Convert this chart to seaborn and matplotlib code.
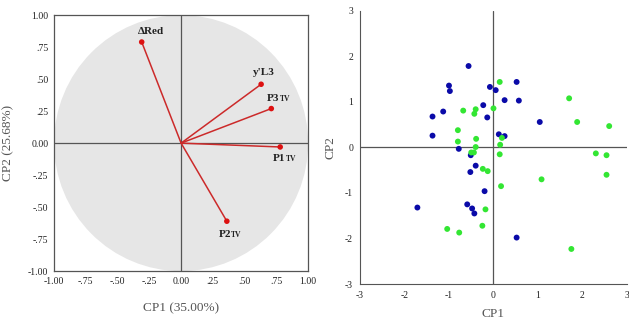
import numpy as np
import pandas as pd
import seaborn as sns
import matplotlib.pyplot as plt
from matplotlib.patches import Circle

# loadings (left panel)
var_main = ["\u0394Red", "y'L3", "P3", "P1", "P2"]
var_sub = ["", "", "TV", "TV", "TV"]
load_cp1 = [-0.31, 0.63, 0.71, 0.78, 0.36]
load_cp2 = [0.79, 0.46, 0.27, -0.03, -0.61]

# scores (right panel)
blue_cp1 = [-0.56, -1.00, -0.98, -1.13, -1.37, -1.37, -0.08, 0.05, 0.52, 0.25, 0.57, -0.23, -0.14,
            1.04, 0.12, 0.25, -0.78, -0.51, -0.40, -0.52, -0.20, -1.71, -0.59, -0.48, -0.43, 0.52]
blue_cp2 = [1.79, 1.36, 1.24, 0.79, 0.68, 0.26, 1.33, 1.26, 1.44, 1.04, 1.03, 0.93, 0.66,
            0.56, 0.29, 0.25, -0.03, -0.17, -0.40, -0.54, -0.96, -1.32, -1.25, -1.34, -1.45, -1.98]
green_cp1 = [0.14, 1.70, -0.68, -0.40, -0.43, 0.00, 1.88, 2.60, -0.80, -0.80, -0.39, 0.19, 0.15,
             -0.40, -0.50, -0.44, 0.14, -0.24, -0.13, 0.17, 1.08, 2.30, 2.54, 2.54, -0.18, -0.25,
             -1.04, -0.77, 1.75]
green_cp2 = [1.44, 1.08, 0.81, 0.84, 0.74, 0.86, 0.56, 0.47, 0.38, 0.13, 0.19, 0.21, 0.06,
             0.01, -0.11, -0.11, -0.15, -0.47, -0.52, -0.85, -0.70, -0.13, -0.17, -0.60, -1.36, -1.72,
             -1.79, -1.87, -2.23]

load_ticks = [-1.0, -0.75, -0.5, -0.25, 0.0, 0.25, 0.5, 0.75, 1.0]
load_tick_labels = ["-1.00", "-.75", "-.50", "-.25", "0.00", ".25", ".50", ".75", "1.00"]
score_ticks = [-3, -2, -1, 0, 1, 2, 3]

sns.set_style("white")
plt.rcParams['font.family'] = ['Liberation Serif', 'DejaVu Serif']
plt.rcParams['axes.unicode_minus'] = False

fig = plt.figure(figsize=(6.29, 3.22), dpi=100)
ax1 = fig.add_axes([0.0859, 0.158, 0.404, 0.795])
ax2 = fig.add_axes([0.5723, 0.118, 0.4245, 0.848])

# ---- left: loading plot
ax1.add_patch(Circle((0, 0), 1.0, facecolor="#e6e6e6", edgecolor="none", zorder=0))
ax1.axhline(0, color="#555555", lw=0.9, zorder=1)
ax1.axvline(0, color="#555555", lw=0.9, zorder=1)
loads = pd.DataFrame({"var": var_main, "CP1": load_cp1, "CP2": load_cp2})
for x, y in zip(loads["CP1"], loads["CP2"]):
    ax1.plot([0, x], [0, y], color="#cc2a2a", lw=1.1, zorder=2)
sns.scatterplot(data=loads, x="CP1", y="CP2", ax=ax1, color="#dd1111", s=16,
                edgecolor="none", zorder=3)

label_off = {"\u0394Red": (-3, 4, "left", "bottom"), "y'L3": (-6, 5, "left", "bottom"),
             "P3": (-3, 4, "left", "bottom"), "P1": (-5, -5, "left", "top"),
             "P2": (-6, -6, "left", "top")}
for name, sub, x, y in zip(var_main, var_sub, load_cp1, load_cp2):
    dx, dy, ha, va = label_off[name]
    t = ax1.annotate(name, (x, y), xytext=(dx, dy), textcoords="offset points",
                     ha=ha, va=va, fontsize=8, fontweight="bold", color="#222222")
    if sub:
        ax1.annotate(sub, xy=(1, 0.0), xycoords=t, ha="left", va="bottom",
                     fontsize=5.5, fontweight="bold", color="#222222")

ax1.set_xlim(-1, 1)
ax1.set_ylim(-1, 1)
ax1.set_xticks(load_ticks)
ax1.set_xticklabels(load_tick_labels)
ax1.set_yticks(load_ticks)
ax1.set_yticklabels(load_tick_labels)
ax1.tick_params(length=0, labelsize=7, colors="#222222", pad=4)
for sp in ax1.spines.values():
    sp.set_color("#555555")
    sp.set_linewidth(0.9)
ax1.set_xlabel("CP1 (35.00%)", fontsize=9.5, color="#555555", labelpad=12)
ax1.set_ylabel("CP2 (25.68%)", fontsize=9.5, color="#555555", labelpad=10)

# ---- right: score plot
scores = pd.DataFrame({
    "CP1": blue_cp1 + green_cp1,
    "CP2": blue_cp2 + green_cp2,
    "group": ["a"] * len(blue_cp1) + ["b"] * len(green_cp1),
})
ax2.axhline(0, color="#555555", lw=0.9, zorder=1)
ax2.axvline(0, color="#555555", lw=0.9, zorder=1)
sns.scatterplot(data=scores, x="CP1", y="CP2", hue="group", ax=ax2,
                palette={"a": "#0a0aa8", "b": "#33e633"}, s=18, edgecolor="none",
                legend=False, zorder=3)
ax2.set_xlim(-3, 3)
ax2.set_ylim(-3, 3)
ax2.set_xticks(score_ticks)
ax2.set_yticks(score_ticks)
ax2.tick_params(length=3, width=0.8, direction="out", labelsize=7, colors="#222222", pad=2)
ax2.tick_params(color="#555555")
sns.despine(ax=ax2)
ax2.spines["left"].set_color("#555555")
ax2.spines["bottom"].set_color("#555555")
ax2.set_xlabel("CP1", fontsize=9.5, color="#555555", labelpad=6)
ax2.set_ylabel("CP2", fontsize=9.5, color="#555555", labelpad=6)

fig.savefig("out.png", dpi=100)
